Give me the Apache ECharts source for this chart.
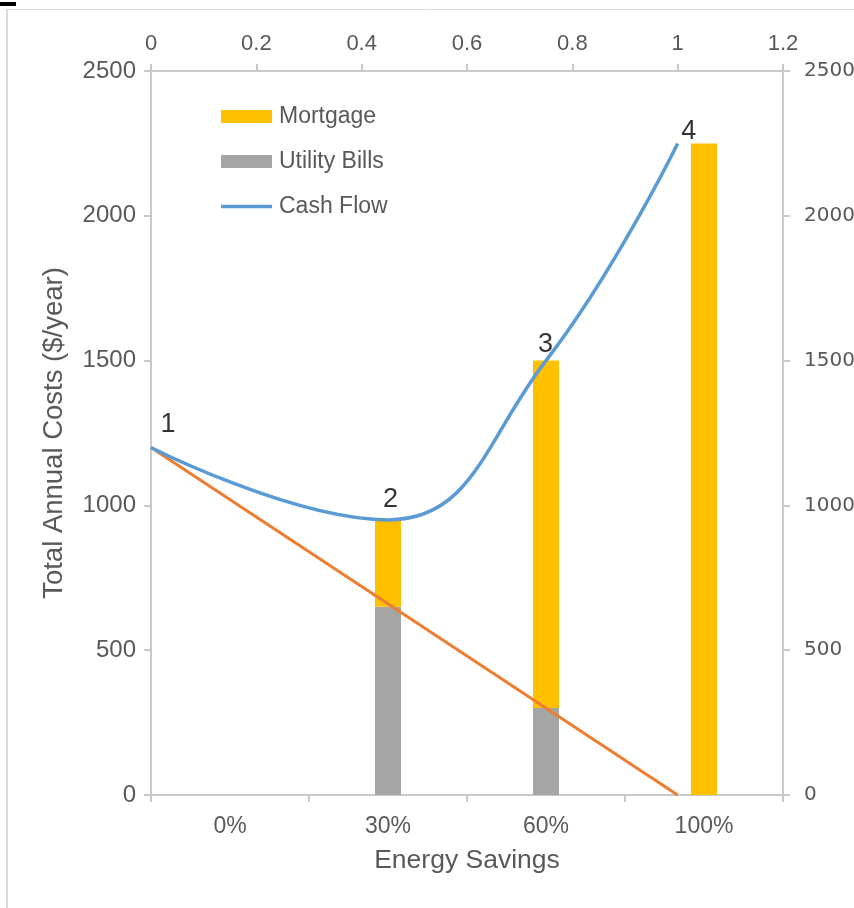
<!DOCTYPE html>
<html>
<head>
<meta charset="utf-8">
<script src="https://cdn.jsdelivr.net/npm/echarts@6/dist/echarts.min.js"></script>
<style>
  html, body { margin: 0; padding: 0; background: #fff; }
  #chart { width: 854px; height: 908px; }
</style>
</head>
<body>
<div id="chart"></div>
<script>
// Energy savings levels (bottom category axis)
const categories = ['0%', '30%', '60%', '100%'];
// Stacked annual costs per savings level ($/year)
const utilityBills = [0, 650, 300, 0];
const mortgage = [0, 300, 1200, 2250];
// Cash flow curve on the secondary (top / right) axes: [x, $/year]
const cashFlowX = [0, 0.45, 0.75, 1];
const cashFlowY = [1200, 950, 1500, 2250];
const pointNames = ['1', '2', '3', '4'];
// Straight reference line from full utility cost to zero
const baselineX = [0, 1];
const baselineY = [1200, 0];

// Label nudges for the numbered points (pixels)
const labelOffsets = [[17, -4], [2.5, -2], [-0.5, 2], [11, 7]];

const textColor = '#595959';
const axisColor = '#c9c9c9';
const font = 'Liberation Sans, Arial, sans-serif';
const plain = v => String(v);

const chart = echarts.init(document.getElementById('chart'), null, { renderer: 'canvas' });

const pointLabelData = cashFlowX.map((x, i) => ({
  value: [x, cashFlowY[i]],
  label: {
    show: true,
    formatter: pointNames[i],
    position: 'top',
    distance: 5,
    offset: labelOffsets[i],
    color: '#000',
    fontSize: 27,
    fontFamily: font
  }
}));

const option = {
  animation: false,
  backgroundColor: '#fff',
  graphic: [
    { type: 'rect', shape: { x: 0, y: 2, width: 16, height: 4 }, style: { fill: '#000' } },
    { type: 'line', shape: { x1: 7, y1: 9.5, x2: 854, y2: 9.5 }, style: { stroke: '#d9d9d9', lineWidth: 1 } },
    { type: 'line', shape: { x1: 7, y1: 9, x2: 7, y2: 908 }, style: { stroke: '#d9d9d9', lineWidth: 2 } }
  ],
  grid: { left: 151, right: 71, top: 71, bottom: 113, containLabel: false, outerBoundsMode: 'none' },
  legend: {
    data: [
      { name: 'Mortgage', icon: 'rect' },
      { name: 'Utility Bills', icon: 'rect' },
      { name: 'Cash Flow', icon: 'path://M0,0 L51,0 L51,3.5 L0,3.5 Z' }
    ],
    orient: 'vertical',
    left: 221,
    top: 105,
    padding: 0,
    itemWidth: 51,
    itemHeight: 13,
    itemGap: 22,
    textStyle: { color: textColor, fontSize: 23, fontFamily: font, padding: [0, 0, 0, 2] }
  },
  xAxis: [
    {
      type: 'category',
      data: categories,
      position: 'bottom',
      name: 'Energy Savings',
      nameLocation: 'middle',
      nameGap: 52,
      nameTextStyle: { color: textColor, fontSize: 26.5, fontFamily: font },
      axisLine: { onZero: false, lineStyle: { color: axisColor, width: 2 } },
      axisTick: { show: true, length: 7, lineStyle: { color: axisColor, width: 2 } },
      axisLabel: { color: textColor, fontSize: 23, fontFamily: font, margin: 20 },
      splitLine: { show: false }
    },
    {
      type: 'value',
      position: 'top',
      min: 0,
      max: 1.2,
      interval: 0.2,
      axisLine: { show: true, onZero: false, lineStyle: { color: axisColor, width: 2 } },
      axisTick: { show: true, length: 7, lineStyle: { color: axisColor, width: 2 } },
      axisLabel: { color: textColor, fontSize: 22, fontFamily: font, margin: 16, formatter: plain },
      splitLine: { show: false }
    }
  ],
  yAxis: [
    {
      type: 'value',
      position: 'left',
      min: 0,
      max: 2500,
      interval: 500,
      name: 'Total Annual Costs ($/year)',
      nameLocation: 'middle',
      nameGap: 83,
      nameTextStyle: { color: textColor, fontSize: 27.5, fontFamily: font },
      axisLine: { show: true, onZero: false, lineStyle: { color: axisColor, width: 2 } },
      axisTick: { show: true, length: 7, lineStyle: { color: axisColor, width: 2 } },
      axisLabel: { color: textColor, fontSize: 24, fontFamily: font, margin: 15, formatter: plain },
      splitLine: { show: false }
    },
    {
      type: 'value',
      position: 'right',
      min: 0,
      max: 2500,
      interval: 500,
      axisLine: { show: true, onZero: false, lineStyle: { color: axisColor, width: 2 } },
      axisTick: { show: true, length: 7, lineStyle: { color: axisColor, width: 2 } },
      axisLabel: { color: textColor, fontSize: 20, fontFamily: 'DejaVu Sans, sans-serif', margin: 21, formatter: plain },
      splitLine: { show: false }
    }
  ],
  series: [
    {
      name: 'Utility Bills',
      type: 'bar',
      stack: 'cost',
      xAxisIndex: 0,
      yAxisIndex: 0,
      barWidth: 26,
      itemStyle: { color: '#a5a5a5' },
      data: utilityBills
    },
    {
      name: 'Mortgage',
      type: 'bar',
      stack: 'cost',
      xAxisIndex: 0,
      yAxisIndex: 0,
      barWidth: 26,
      itemStyle: { color: '#ffc000' },
      data: mortgage
    },
    {
      name: 'Baseline',
      type: 'line',
      xAxisIndex: 1,
      yAxisIndex: 1,
      symbol: 'none',
      lineStyle: { color: '#ed7d31', width: 3 },
      itemStyle: { color: '#ed7d31' },
      data: baselineX.map((x, i) => [x, baselineY[i]])
    },
    {
      name: 'Cash Flow',
      type: 'line',
      xAxisIndex: 1,
      yAxisIndex: 1,
      smooth: 0.45,
      smoothConstraint: false,
      symbol: 'none',
      lineStyle: { color: '#5b9bd5', width: 3.5 },
      itemStyle: { color: '#5b9bd5' },
      data: cashFlowX.map((x, i) => [x, cashFlowY[i]])
    },
    {
      name: 'Points',
      type: 'scatter',
      xAxisIndex: 1,
      yAxisIndex: 1,
      symbolSize: 0,
      silent: true,
      data: pointLabelData
    }
  ]
};

chart.setOption(option);
</script>
</body>
</html>
